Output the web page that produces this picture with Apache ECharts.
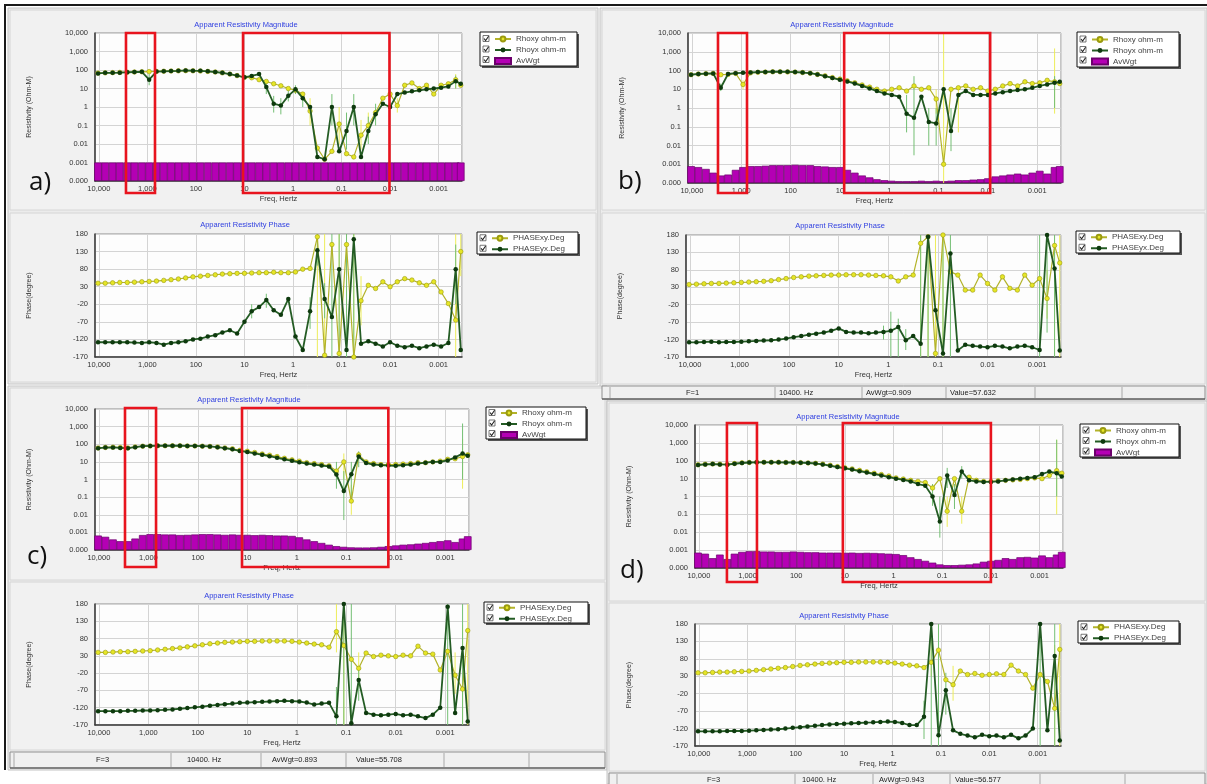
<!DOCTYPE html>
<html><head><meta charset="utf-8">
<script src="https://cdn.jsdelivr.net/npm/echarts@6/dist/echarts.min.js"></script>
<style>html,body{margin:0;padding:0;background:#fff;}#c{width:1207px;height:784px;}</style>
</head><body><div id="c"></div>
<script>
// ---------------- DATA ----------------
const freqHz = [10400, 7400, 5200, 3700, 2600, 1850, 1300, 920, 650, 460, 325, 230, 163, 115, 81, 57, 40, 28.5, 20, 14.2, 10, 7.1, 5, 3.55, 2.5, 1.78, 1.25, 0.89, 0.63, 0.445, 0.315, 0.223, 0.158, 0.112, 0.079, 0.056, 0.0397, 0.0281, 0.0199, 0.0141, 0.01, 0.0071, 0.005, 0.00355, 0.0025, 0.00178, 0.00126, 0.00089, 0.00063, 0.000445, 0.00035];
const magTickLabels = ['10,000', '1,000', '100', '10', '1', '0.1', '0.01', '0.001', '0.000'];
const freqTickLabels = ['10,000', '1,000', '100', '10', '1', '0.1', '0.01', '0.001'];
const legendMag = ['Rhoxy ohm-m', 'Rhoyx ohm-m', 'AvWgt'];
const legendPh = ['PHASExy.Deg', 'PHASEyx.Deg'];

// panel a
const rhoxyA = [68, 70, 72, 74, 76, 78, 80, 82, 84, 86, 88, 90, 92, 90, 88, 84, 78, 70, 60, 50, 40, 38, 30, 24, 18, 14, 10, 8, 5, 0.6, 0.006, 0.0015, 0.004, 0.12, 0.003, 0.002, 0.03, 0.1, 0.5, 3, 5, 1.2, 15, 20, 10, 15, 5, 15, 18, 30, 15];
const rhoyxA = [65, 70, 70, 72, 75, 78, 80, 30, 82, 85, 88, 90, 95, 92, 90, 85, 78, 70, 60, 50, 40, 48, 60, 12, 1.5, 1.2, 4, 9, 3, 1, 0.002, 0.0015, 1, 0.004, 0.05, 1, 0.002, 0.05, 0.4, 1.5, 1, 5, 6, 7, 8, 9, 10, 11, 13, 25, 18];
const avA = [1, 1, 1, 1, 1, 1, 1, 1, 1, 1, 1, 1, 1, 1, 1, 1, 1, 1, 1, 1, 1, 1, 1, 1, 1, 1, 1, 1, 1, 1, 1, 1, 1, 1, 1, 1, 1, 1, 1, 1, 1, 1, 1, 1, 1, 1, 1, 1, 1, 1, 1];
const phxyA = [40, 40, 41, 42, 42, 43, 44, 45, 46, 48, 50, 52, 55, 58, 60, 62, 64, 66, 67, 68, 68, 69, 70, 70, 71, 70, 70, 72, 80, 82, 172, -165, 150, -160, 150, -170, -10, 34, 25, 44, 30, 44, 53, 49, 41, 34, 44, 15, -18, -65, 130];
const phyxA = [-128, -128, -128, -128, -128, -129, -130, -128, -130, -135, -130, -128, -125, -120, -118, -112, -108, -100, -94, -103, -70, -40, -28, -8, -37, -50, -5, -112, -150, -40, 134, -5, -56, 80, -150, 165, -132, -125, -132, -140, -128, -138, -142, -138, -145, -140, -135, -140, -130, 80, -150];
const errMagXyA = [[29, 0.1, 3], [33, 0.01, 1], [36, 0.005, 0.2], [37, 0.02, 0.5], [41, 0.5, 3], [49, 10, 60]];
const errMagYxA = [[7, 15, 60], [23, 5, 25], [24, 0.5, 4], [25, 0.4, 3], [26, 2, 8], [27, 5, 15], [28, 1, 6], [32, 0.1, 5], [34, 0.005, 0.5], [35, 0.1, 5], [37, 0.01, 0.3], [38, 0.1, 1.5], [49, 10, 50]];
const errPhXyA = [[30, -170, 180], [31, -170, 180], [33, -170, 180], [34, -170, 180], [35, -170, 180], [36, -80, 60], [49, -170, 180], [50, 60, 180]];
const errPhYxA = [[21, -60, -20], [23, -30, 10], [29, -90, 0], [30, 90, 180], [31, -60, 40], [32, -170, 180], [33, -170, 180], [34, -170, 180], [35, -170, 180], [49, -20, 150]];
const boxesA = [[2760, 697], [10.7, 0.0103]];

// panel b
const rhoxyB = [60, 65, 68, 70, 60, 62, 70, 18, 75, 80, 82, 85, 85, 84, 82, 78, 72, 62, 52, 42, 35, 28, 22, 17, 13, 10, 8, 10, 12, 8, 15, 10, 12, 3, 0.001, 10, 12, 15, 10, 12, 8, 10, 15, 20, 15, 25, 20, 22, 30, 25, 20];
const rhoyxB = [60, 65, 68, 70, 12, 65, 72, 75, 78, 82, 84, 86, 86, 85, 82, 78, 72, 62, 50, 40, 32, 26, 20, 15, 11, 8, 6, 5, 4, 0.5, 0.3, 4, 0.18, 0.15, 10, 0.06, 5, 8, 5, 5, 5, 6, 7, 8, 9, 10, 12, 15, 18, 22, 25];
const avB = [0.9, 0.85, 0.75, 0.55, 0.4, 0.45, 0.7, 0.85, 0.9, 0.9, 0.92, 0.95, 0.95, 0.95, 0.97, 0.95, 0.95, 0.9, 0.88, 0.85, 0.85, 0.7, 0.55, 0.4, 0.3, 0.2, 0.15, 0.12, 0.1, 0.1, 0.1, 0.12, 0.1, 0.12, 0.1, 0.12, 0.15, 0.15, 0.18, 0.2, 0.25, 0.35, 0.4, 0.45, 0.5, 0.45, 0.55, 0.65, 0.5, 0.85, 0.9];
const phxyB = [38, 39, 40, 41, 41, 42, 43, 44, 45, 46, 47, 49, 52, 55, 58, 60, 62, 63, 64, 65, 65, 66, 66, 66, 65, 64, 63, 60, 48, 60, 65, 156, 175, -160, 180, 75, 65, 22, 22, 65, 41, 22, 60, 27, 22, 65, 36, 55, -2, 150, 100];
const phyxB = [-128, -128, -127, -126, -128, -127, -127, -126, -125, -124, -123, -122, -120, -117, -113, -110, -106, -103, -100, -95, -88, -98, -100, -100, -102, -100, -98, -95, -84, -122, -110, -132, 175, -36, -160, 127, -151, -135, -138, -140, -142, -138, -140, -145, -140, -138, -142, -150, 180, 84, -151];
const errMagXyB = [[7, 10, 30], [33, 0.5, 10], [34, 0.0001, 10000], [36, 0.05, 15], [49, 0.5, 1500]];
const errMagYxB = [[4, 8, 20], [29, 0.05, 5], [30, 0.003, 50], [32, 0.01, 1], [33, 0.01, 1], [35, 0.005, 1], [49, 1, 50]];
const errPhXyB = [[31, -170, 180], [32, -170, 180], [33, -170, 180], [34, -170, 180], [48, -60, 80], [49, -170, 180], [50, -170, 180]];
const errPhYxB = [[26, -120, -80], [27, -170, -40], [28, -170, -60], [29, -150, -90], [31, -170, 180], [32, -170, 180], [34, -170, 180], [35, -170, 180], [47, -170, 180], [48, -100, 180], [49, -170, 180]];
const boxesB = [[2960, 764], [8.2, 0.009]];
const statusB = ['F=1', '10400. Hz', 'AvWgt=0.909', 'Value=57.632'];

// panel c
const rhoxyC = [62, 66, 68, 65, 62, 70, 78, 80, 82, 82, 82, 82, 80, 80, 78, 75, 70, 62, 55, 45, 40, 34, 28, 24, 20, 16, 13, 11, 9, 8, 7, 6, 3, 10, 0.06, 25, 10, 8, 7, 7, 7, 7.5, 8, 9, 9, 10, 11, 14, 15, 20, 25];
const rhoyxC = [60, 65, 66, 62, 60, 68, 78, 80, 82, 82, 82, 82, 80, 80, 78, 75, 68, 60, 52, 42, 36, 30, 25, 21, 17, 14, 11.5, 9.5, 8, 7, 6.2, 5.5, 1.9, 0.22, 2, 20, 8.5, 7, 6.5, 6.2, 6, 6.5, 7, 8, 9, 10, 10, 12, 18, 30, 22];
const avC = [0.82, 0.75, 0.6, 0.5, 0.5, 0.65, 0.85, 0.9, 0.9, 0.88, 0.88, 0.85, 0.86, 0.88, 0.9, 0.9, 0.88, 0.86, 0.88, 0.86, 0.86, 0.84, 0.86, 0.84, 0.82, 0.82, 0.8, 0.72, 0.6, 0.5, 0.4, 0.3, 0.22, 0.18, 0.15, 0.14, 0.14, 0.15, 0.18, 0.22, 0.26, 0.3, 0.32, 0.36, 0.4, 0.45, 0.5, 0.55, 0.45, 0.65, 0.78];
const phxyC = [40, 40, 41, 42, 42, 43, 44, 45, 47, 49, 51, 53, 56, 59, 62, 65, 67, 69, 70, 71, 72, 72, 73, 73, 73, 73, 72, 70, 67, 64, 62, 55, 100, 60, 20, -6, 38, 28, 32, 30, 28, 32, 30, 58, 38, 35, -11, 43, -26, -66, 103];
const phyxC = [-130, -130, -130, -130, -129, -129, -128, -128, -127, -126, -125, -123, -121, -119, -117, -114, -112, -110, -108, -106, -105, -104, -103, -102, -101, -100, -101, -102, -105, -111, -108, -106, -145, 180, -165, -40, -135, -140, -142, -140, -138, -142, -140, -145, -150, -140, -120, 172, -135, 53, -160];
const errMagXyC = [[33, 1, 30], [34, 0.01, 0.5], [49, 0.3, 200]];
const errMagYxC = [[32, 0.3, 10], [33, 0.005, 3], [34, 0.1, 10], [35, 5, 40], [49, 1, 1500]];
const errPhXyC = [[32, 40, 180], [33, -170, 180], [35, -60, 40], [48, -80, 40], [49, -170, 120], [50, -170, 180]];
const errPhYxC = [[32, -170, -60], [33, -170, 180], [34, -170, 180], [35, -100, 0], [47, -170, 180], [49, -170, 180]];
const boxesC = [[12.8, 0.0141], [2970, 700]];
const statusC = ['F=3', '10400. Hz', 'AvWgt=0.893', 'Value=55.708'];

// panel d
const rhoxyD = [60, 64, 66, 64, 62, 70, 77, 80, 82, 82, 82, 82, 80, 80, 78, 76, 72, 65, 56, 47, 40, 35, 29, 24, 20, 17, 14, 11, 9.5, 8, 7, 6, 3, 10, 0.15, 10, 0.15, 12, 8, 7, 7, 7.5, 8, 8.5, 9, 10, 11, 10, 15, 28, 20];
const rhoyxD = [58, 62, 65, 62, 60, 68, 75, 80, 82, 82, 82, 82, 80, 80, 78, 75, 70, 62, 52, 44, 38, 32, 26, 22, 18, 15, 12, 10, 8.5, 7, 5, 4, 1, 0.04, 15, 1.2, 25, 8, 7, 6.5, 6.5, 7, 8, 9, 10, 11, 12, 18, 25, 20, 13];
const avD = [0.86, 0.8, 0.55, 0.75, 0.5, 0.8, 0.9, 0.94, 0.94, 0.92, 0.92, 0.9, 0.9, 0.92, 0.9, 0.88, 0.88, 0.86, 0.86, 0.86, 0.85, 0.86, 0.84, 0.85, 0.84, 0.82, 0.8, 0.78, 0.72, 0.6, 0.5, 0.4, 0.3, 0.2, 0.16, 0.16, 0.18, 0.2, 0.25, 0.35, 0.4, 0.45, 0.55, 0.5, 0.6, 0.62, 0.58, 0.7, 0.6, 0.75, 0.9];
const phxyD = [40, 40, 41, 42, 42, 43, 44, 45, 47, 49, 51, 53, 55, 58, 61, 63, 65, 67, 68, 69, 70, 70, 71, 71, 71, 71, 70, 68, 65, 62, 60, 55, 70, 105, 20, 6, 45, 35, 38, 33, 35, 37, 35, 62, 45, 35, -4, 35, 15, -62, 107];
const phyxD = [-128, -128, -128, -128, -127, -127, -127, -126, -125, -124, -123, -122, -120, -118, -116, -114, -112, -110, -108, -107, -106, -105, -104, -103, -102, -101, -100, -101, -104, -110, -110, -86, 180, -139, -10, -125, -135, -140, -145, -138, -142, -140, -145, -138, -148, -140, -120, 180, -125, 88, -154];
const errMagXyD = [[34, 0.02, 1], [36, 0.03, 1], [49, 0.1, 1500]];
const errMagYxD = [[32, 0.3, 5], [33, 0.005, 1], [34, 3, 40], [35, 0.2, 5], [36, 10, 50], [49, 1, 1500]];
const errPhXyD = [[32, 30, 180], [33, -170, 180], [35, -40, 60], [49, -170, 120], [50, -170, 180]];
const errPhYxD = [[31, -150, -40], [32, -170, 180], [33, -170, 180], [34, -80, 40], [47, -170, 180], [49, -170, 180]];
const boxesD = [[2650, 640], [11, 0.01]];
const statusD = ['F=3', '10400. Hz', 'AvWgt=0.943', 'Value=56.577'];

// ---------------- LAYOUT ----------------
const X_MIN = 0.00033, X_MAX = 12000;
const FONT = 'Liberation Sans, Arial, sans-serif';
const panels = [
  {d: {xy: rhoxyA, yx: rhoyxA, av: avA, pxy: phxyA, pyx: phyxA, emxy: errMagXyA, emyx: errMagYxA, epxy: errPhXyA, epyx: errPhYxA, boxes: boxesA},
   frame: [8, 8, 590, 376], win: [[10, 10, 586, 200], [10, 213, 586, 169]],
   mag: [95, 33, 462, 181], ph: [95, 234, 462, 357], tM: [246, 25], tP: [245, 225], lab: ['a)', 29, 183],
   legM: [480, 32, 97, 34], legP: [477, 232, 101, 22], redY: [33, 193], status: null},
  {d: {xy: rhoxyB, yx: rhoyxB, av: avB, pxy: phxyB, pyx: phyxB, emxy: errMagXyB, emyx: errMagYxB, epxy: errPhXyB, epyx: errPhYxB, boxes: boxesB},
   frame: [600, 8, 607, 392], win: [[602, 10, 603, 200], [602, 213, 603, 171]],
   mag: [688, 33, 1061, 183], ph: [686, 235, 1061, 357], tM: [842, 25], tP: [840, 226], lab: ['b)', 618, 182],
   legM: [1077, 32, 102, 35], legP: [1076, 231, 104, 22], redY: [33, 193],
   status: {text: statusB, rect: [602, 386, 603, 13], seps: [610, 775, 862, 946, 1035, 1122], xs: [686, 779, 866, 950], y: 392.5}},
  {d: {xy: rhoxyC, yx: rhoyxC, av: avC, pxy: phxyC, pyx: phyxC, emxy: errMagXyC, emyx: errMagYxC, epxy: errPhXyC, epyx: errPhYxC, boxes: boxesC},
   frame: [8, 386, 599, 384], win: [[10, 388, 595, 192], [10, 582, 595, 168]],
   mag: [95, 409, 469, 550], ph: [95, 604, 469, 725], tM: [249, 400], tP: [249, 596], lab: ['c)', 27, 557],
   legM: [486, 407, 100, 32], legP: [484, 602, 104, 21], redY: [408, 567],
   status: {text: statusC, rect: [10, 752, 595, 16], seps: [14, 171, 261, 346, 444, 529], xs: [96, 187, 272, 356], y: 760}},
  {d: {xy: rhoxyD, yx: rhoyxD, av: avD, pxy: phxyD, pyx: phyxD, emxy: errMagXyD, emyx: errMagYxD, epxy: errPhXyD, epyx: errPhYxD, boxes: boxesD},
   frame: [607, 401, 600, 383], win: [[609, 403, 596, 198], [609, 603, 596, 168]],
   mag: [695, 425, 1063, 568], ph: [695, 624, 1061, 746], tM: [848, 417], tP: [844, 616], lab: ['d)', 620, 571],
   legM: [1080, 424, 99, 33], legP: [1078, 621, 101, 22], redY: [423, 582],
   status: {text: statusD, rect: [609, 773, 596, 12], seps: [617, 795, 873, 950, 1040, 1125], xs: [707, 802, 879, 955], y: 780}}
];

// ---------------- BUILD ----------------
function powLabel(v, labels, top) {
  const l = Math.log10(v);
  const p = Math.round(l);
  if (Math.abs(l - p) > 1e-6) return '';
  const idx = top - p;
  return labels[idx] !== undefined ? labels[idx] : '';
}
function errRender(params, api) {
  const f = api.value(0);
  const a = api.coord([f, api.value(1)]);
  const b = api.coord([f, api.value(2)]);
  return {type: 'line', shape: {x1: a[0], y1: a[1], x2: b[0], y2: b[1]}, style: {stroke: api.visual('color'), lineWidth: 1}};
}
const pairs = arr => freqHz.map((f, i) => [f, arr[i]]);
const errData = arr => arr.map(e => [freqHz[e[0]], e[1], e[2]]);

const grids = [], xAxes = [], yAxes = [], series = [], legends = [], gfx = [], magXIdx = [];
const axisTxt = {fontSize: 7.5, color: '#333', fontFamily: FONT};
const XY_LINE = '#b3b32a', XY_FILL = '#e6e626', XY_BORDER = '#9a9a10', XY_ERR = '#eded5a';
const YX_LINE = '#245c24', YX_FILL = '#0e3a0e', YX_ERR = '#74bf74';

function addGrid(r) {
  grids.push({left: r[0], top: r[1], width: r[2] - r[0], height: r[3] - r[1], show: true,
    backgroundColor: '#fdfdfd', borderColor: '#8c8c8c', borderWidth: 1});
  return grids.length - 1;
}
function addX(g) {
  xAxes.push({type: 'log', gridIndex: g, logBase: 10, min: X_MIN, max: X_MAX, inverse: true,
    name: 'Freq, Hertz', nameLocation: 'middle', nameGap: 14, nameTextStyle: axisTxt,
    axisLine: {show: true, onZero: false, lineStyle: {color: '#3a3a3a', width: 1.5}},
    axisTick: {show: false},
    axisLabel: Object.assign({margin: 4, formatter: v => powLabel(v, freqTickLabels, 4)}, axisTxt),
    splitLine: {show: true, lineStyle: {color: '#d4d4d4', width: 1}}});
  return xAxes.length - 1;
}
function addLegendBox(box, names) {
  gfx.push({type: 'rect', z: 3, silent: true, shape: {x: box[0] + 2, y: box[1] + 2, width: box[2], height: box[3]}, style: {fill: '#555'}});
  gfx.push({type: 'rect', z: 3, silent: true, shape: {x: box[0], y: box[1], width: box[2], height: box[3]}, style: {fill: '#fff', stroke: '#111', lineWidth: 1}});
  const n = names.length, rowH = 9, gap = 1.5;
  const top = box[1] + (box[3] - (n * rowH + (n - 1) * gap)) / 2;
  legends.push({show: true, left: box[0] + 14, top: top + 1, orient: 'vertical', itemWidth: 16, itemHeight: 6, itemGap: gap + 1.5,
    padding: 0, selectedMode: false, textStyle: {fontSize: 8, color: '#444', lineHeight: rowH - 1.5, fontFamily: FONT},
    data: names.map(nm => nm === 'AvWgt' ? {name: nm, icon: 'rect'} : {name: nm})});
  for (let i = 0; i < n; i++) {
    const cy = top + i * (rowH + gap) + rowH / 2, cx = box[0] + 3;
    gfx.push({type: 'rect', z: 5, silent: true, shape: {x: cx, y: cy - 3, width: 6, height: 6}, style: {fill: '#fff', stroke: '#555', lineWidth: 0.8}});
    gfx.push({type: 'polyline', z: 6, silent: true, shape: {points: [[cx + 1, cy], [cx + 2.6, cy + 2], [cx + 5.6, cy - 2.2]]}, style: {fill: 'none', stroke: '#222', lineWidth: 1.1}});
  }
}
function txt(x, y, s, o) {
  gfx.push({type: 'text', x: x, y: y, z: (o && o.z) || 10, silent: true,
    style: Object.assign({text: s, fill: '#333', fontSize: 7.5, fontFamily: FONT, align: 'left', verticalAlign: 'middle'}, o || {})});
}

// outer frame
gfx.push({type: 'line', z: -5, silent: true, shape: {x1: 4, y1: 5, x2: 1207, y2: 5}, style: {stroke: '#1a1a1a', lineWidth: 2}});
gfx.push({type: 'line', z: -5, silent: true, shape: {x1: 5, y1: 4, x2: 5, y2: 770}, style: {stroke: '#1a1a1a', lineWidth: 2}});

panels.forEach((P, k) => {
  const D = P.d;
  gfx.push({type: 'rect', z: -10, silent: true, shape: {x: P.frame[0], y: P.frame[1], width: P.frame[2], height: P.frame[3]}, style: {fill: '#ececec', stroke: '#c4c4c4', lineWidth: 1}});
  P.win.forEach(w => gfx.push({type: 'rect', z: -9, silent: true, shape: {x: w[0], y: w[1], width: w[2], height: w[3]}, style: {fill: '#f1f1f1', stroke: '#d6d6d6', lineWidth: 1}}));
  if (P.status) {
    const S = P.status;
    gfx.push({type: 'rect', z: -8, silent: true, shape: {x: S.rect[0], y: S.rect[1], width: S.rect[2], height: S.rect[3]}, style: {fill: '#f0f0f0', stroke: '#8f8f8f', lineWidth: 1}});
    gfx.push({type: 'line', z: -7, silent: true, shape: {x1: S.rect[0], y1: S.rect[1] + S.rect[3], x2: S.rect[0] + S.rect[2], y2: S.rect[1] + S.rect[3]}, style: {stroke: '#444', lineWidth: 1.2}});
    S.seps.forEach(x => gfx.push({type: 'line', z: -7, silent: true, shape: {x1: x, y1: S.rect[1] + 1, x2: x, y2: S.rect[1] + S.rect[3] - 1}, style: {stroke: '#a8a8a8', lineWidth: 1}}));
    S.text.forEach((s, i) => txt(S.xs[i], S.y, s, {fill: '#222'}));
  }
  txt(P.tM[0], P.tM[1], 'Apparent Resistivity Magnitude', {align: 'center', fill: '#2f3fe0'});
  txt(P.tP[0], P.tP[1], 'Apparent Resistivity Phase', {align: 'center', fill: '#2f3fe0'});
  txt(P.lab[1], P.lab[2], P.lab[0], {fontSize: 26, fill: '#111', fontFamily: 'Open Sans, Liberation Sans, sans-serif', z: 101});

  // magnitude grid
  const gm = addGrid(P.mag);
  const xm = addX(gm); magXIdx.push(xm);
  yAxes.push({type: 'log', gridIndex: gm, logBase: 10, min: 0.0001, max: 10000,
    name: 'Resistivity (Ohm-M)', nameLocation: 'middle', nameGap: 62, nameRotate: 90, nameTextStyle: Object.assign({}, axisTxt, {fontSize: 7}),
    axisLine: {show: true, onZero: false, lineStyle: {color: '#3a3a3a', width: 1.5}}, axisTick: {show: false},
    axisLabel: Object.assign({margin: 7, formatter: v => powLabel(v, magTickLabels, 4)}, axisTxt),
    splitLine: {show: true, lineStyle: {color: '#d4d4d4'}}});
  const ym = yAxes.length - 1;
  yAxes.push({type: 'value', gridIndex: gm, min: 0, max: 8, show: false, splitLine: {show: false}});
  const ya = yAxes.length - 1;
  series.push({type: 'bar', name: 'AvWgt', xAxisIndex: xm, yAxisIndex: ya, data: pairs(D.av), barWidth: 7.6,
    itemStyle: {color: '#b400b4', borderColor: '#6c006c', borderWidth: 0.7}, z: 1, silent: true});
  series.push({type: 'custom', name: 'errMagXy' + k, xAxisIndex: xm, yAxisIndex: ym, renderItem: errRender, data: errData(D.emxy),
    encode: {x: 0, y: [1, 2]}, itemStyle: {color: XY_ERR}, clip: true, z: 2, silent: true});
  series.push({type: 'custom', name: 'errMagYx' + k, xAxisIndex: xm, yAxisIndex: ym, renderItem: errRender, data: errData(D.emyx),
    encode: {x: 0, y: [1, 2]}, itemStyle: {color: YX_ERR}, clip: true, z: 2, silent: true});
  series.push({type: 'line', name: 'Rhoxy ohm-m', xAxisIndex: xm, yAxisIndex: ym, data: pairs(D.xy), symbol: 'circle', symbolSize: 4.5,
    lineStyle: {color: XY_LINE, width: 1.2}, itemStyle: {color: XY_FILL, borderColor: XY_BORDER, borderWidth: 0.6}, z: 3, silent: true});
  series.push({type: 'line', name: 'Rhoyx ohm-m', xAxisIndex: xm, yAxisIndex: ym, data: pairs(D.yx), symbol: 'circle', symbolSize: 4.5,
    lineStyle: {color: YX_LINE, width: 1.8}, itemStyle: {color: YX_FILL}, z: 4, silent: true});
  addLegendBox(P.legM, legendMag);

  // phase grid
  const gp = addGrid(P.ph);
  const xp = addX(gp);
  yAxes.push({type: 'value', gridIndex: gp, min: -170, max: 180, interval: 50,
    name: 'Phase(degree)', nameLocation: 'middle', nameGap: 62, nameRotate: 90, nameTextStyle: Object.assign({}, axisTxt, {fontSize: 7}),
    axisLine: {show: true, onZero: false, lineStyle: {color: '#3a3a3a', width: 1.5}}, axisTick: {show: false},
    axisLabel: Object.assign({margin: 7}, axisTxt),
    splitLine: {show: true, lineStyle: {color: '#d4d4d4'}}});
  const yp = yAxes.length - 1;
  series.push({type: 'custom', name: 'errPhXy' + k, xAxisIndex: xp, yAxisIndex: yp, renderItem: errRender, data: errData(D.epxy),
    encode: {x: 0, y: [1, 2]}, itemStyle: {color: XY_ERR}, clip: true, z: 2, silent: true});
  series.push({type: 'custom', name: 'errPhYx' + k, xAxisIndex: xp, yAxisIndex: yp, renderItem: errRender, data: errData(D.epyx),
    encode: {x: 0, y: [1, 2]}, itemStyle: {color: YX_ERR}, clip: true, z: 2, silent: true});
  series.push({type: 'line', name: 'PHASExy.Deg', xAxisIndex: xp, yAxisIndex: yp, data: pairs(D.pxy), symbol: 'circle', symbolSize: 4.5,
    lineStyle: {color: XY_LINE, width: 1.2}, itemStyle: {color: XY_FILL, borderColor: XY_BORDER, borderWidth: 0.6}, z: 3, silent: true});
  series.push({type: 'line', name: 'PHASEyx.Deg', xAxisIndex: xp, yAxisIndex: yp, data: pairs(D.pyx), symbol: 'circle', symbolSize: 4.5,
    lineStyle: {color: YX_LINE, width: 1.8}, itemStyle: {color: YX_FILL}, z: 4, silent: true});
  addLegendBox(P.legP, legendPh);
});

const chart = echarts.init(document.getElementById('c'), null, {width: 1207, height: 784});
const option = {animation: false, backgroundColor: '#ffffff', textStyle: {fontFamily: FONT},
  grid: grids, xAxis: xAxes, yAxis: yAxes, series: series, legend: legends, graphic: {elements: gfx}};
chart.setOption(option);

// red highlight boxes, placed through the frequency axes
panels.forEach((P, k) => {
  P.d.boxes.forEach(b => {
    const x1 = chart.convertToPixel({xAxisIndex: magXIdx[k]}, b[0]);
    const x2 = chart.convertToPixel({xAxisIndex: magXIdx[k]}, b[1]);
    gfx.push({type: 'rect', z: 100, silent: true,
      shape: {x: Math.min(x1, x2), y: P.redY[0], width: Math.abs(x2 - x1), height: P.redY[1] - P.redY[0]},
      style: {fill: 'none', stroke: '#e8141e', lineWidth: 2.6}});
  });
});
option.graphic = {elements: gfx};
chart.setOption(option, true);
</script>
</body></html>
